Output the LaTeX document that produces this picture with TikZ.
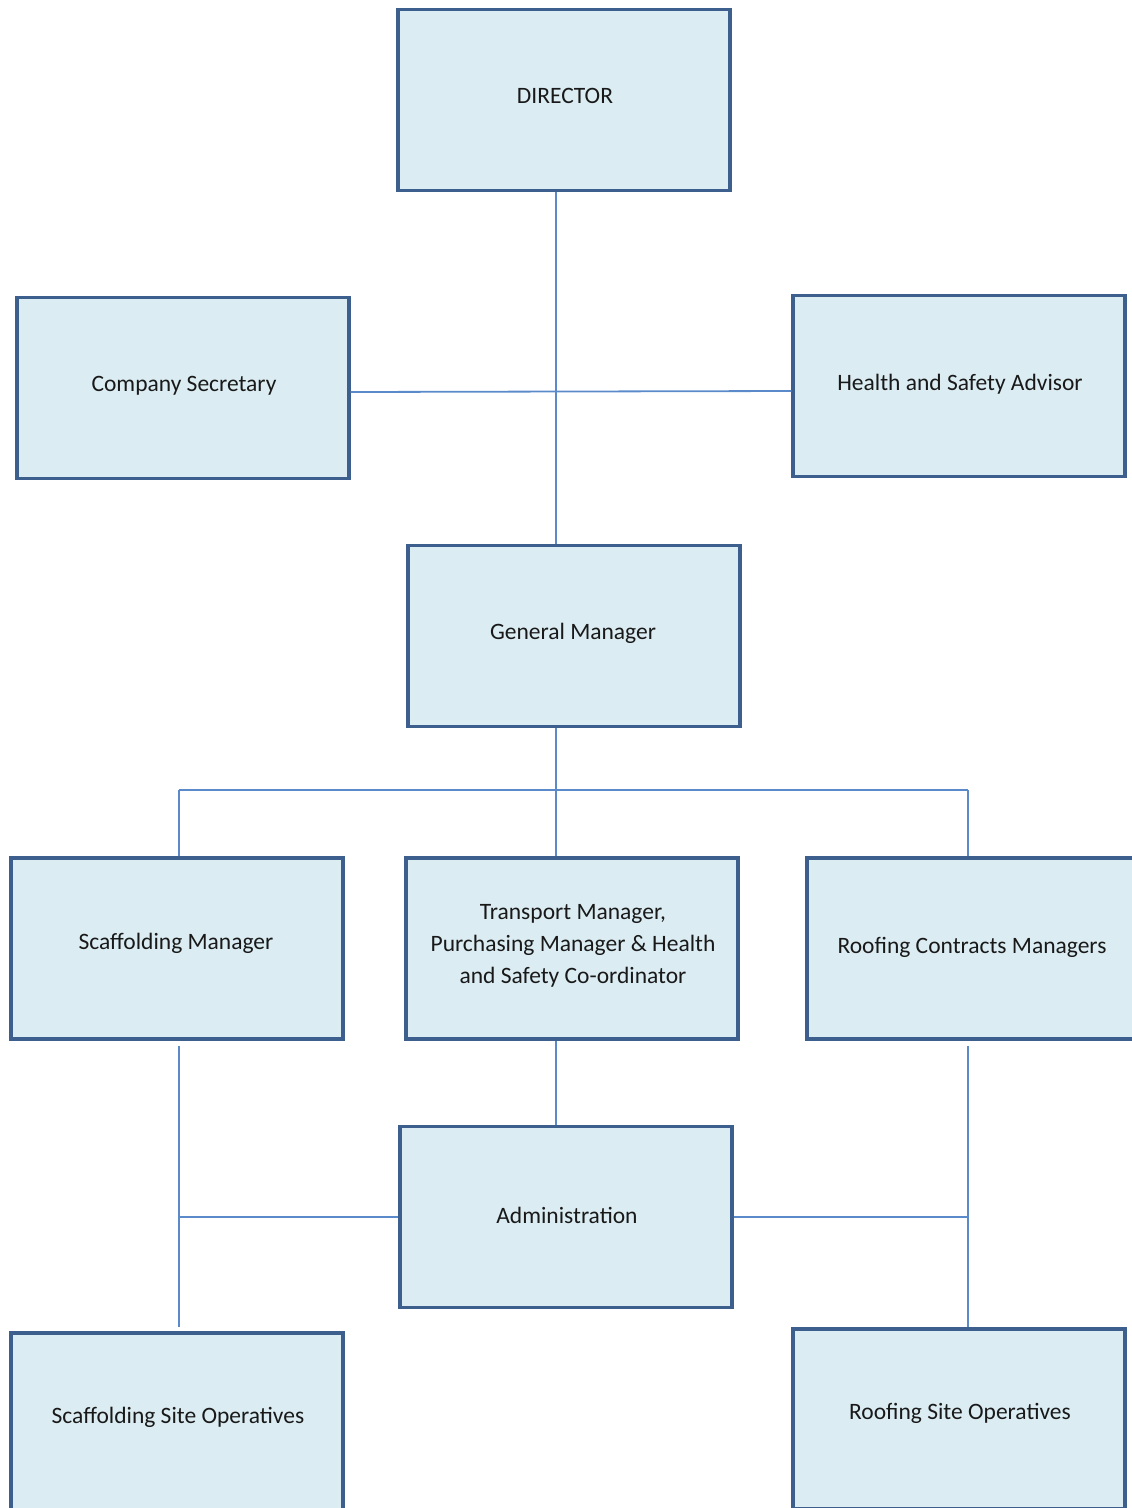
\documentclass[tikz,border=0pt]{standalone}
\usepackage{fontspec}
\setmainfont{Carlito}
\begin{document}
\begin{tikzpicture}[x=1pt,y=-1pt,
  box/.style={draw=boxline,fill=boxfill,line width=3.2pt,minimum width=332pt,minimum height=181pt,inner sep=0pt,font=\fontsize{23.5}{32}\selectfont,text=black!90,align=center},
  lbl/.style={font=\fontsize{23.5}{28}\selectfont,text=black!90,inner sep=0pt},
  conn/.style={draw=connline,line width=1.8pt}]
\definecolor{boxline}{HTML}{3C5F8E}
\definecolor{boxfill}{HTML}{DBEDF3}
\definecolor{connline}{HTML}{5B8ACB}
\useasboundingbox (0,0) rectangle (1132,1508);
\clip (0,0) rectangle (1132,1508);
% nodes
\node[box] (dir) at (564,100) {};
\node[lbl] (dirt) at (565,96) {DIRECTOR};
\node[box] (cs) at (183,388) {};
\node[lbl] (cst) at (184,386) {Company Secretary};
\node[box] (hs) at (959,386) {};
\node[lbl] (hst) at (960,384) {Health and Safety Advisor};
\node[box] (gm) at (574,636) {};
\node[lbl] (gmt) at (573,633) {General Manager};
\node[box] (sm) at (177,948.5) {};
\node[lbl] (smt) at (176,943) {Scaffolding Manager};
\node[box] (tm) at (572,948.5) {};
\node[lbl,align=center,font=\fontsize{23.5}{32}\selectfont] (tmt) at (573,946) {Transport Manager,\\Purchasing Manager \& Health\\and Safety Co-ordinator};
\node[box] (rc) at (973,948.5) {};
\node[lbl] (rct) at (972,947) {Roofing Contracts Managers};
\node[box] (adm) at (566,1217) {};
\node[lbl] (admt) at (567,1215) {Administration};
\node[box,minimum height=240pt] (sso) at (177,1453) {};
\node[lbl] (ssot) at (178,1417) {Scaffolding Site Operatives};
\node[box,minimum height=180pt] (rso) at (959,1419) {};
\node[lbl] (rsot) at (960,1413) {Roofing Site Operatives};
% coordinates
\coordinate (jm) at (556,790);
\coordinate (jl) at (179,790);
\coordinate (jr) at (968,790);
\coordinate (lt) at (179,1046);
\coordinate (rt) at (968,1046);
% connectors
\draw[conn] (dir.south -| jm) -- (gm.north -| jm);
\draw[conn] ([yshift=-4pt]cs.east) -- ([yshift=-5pt]hs.west);
\draw[conn] (gm.south -| jm) -- (jm);
\draw[conn] (jl) -- (jr);
\draw[conn] (jl) -- (sm.north -| jl);
\draw[conn] (jm) -- (tm.north -| jm);
\draw[conn] (jr) -- (rc.north -| jr);
\draw[conn] (tm.south -| jm) -- (adm.north -| jm);
\draw[conn] (lt) -- ([yshift=4pt]sso.north -| lt);
\draw[conn] (rt) -- (rso.north -| rt);
\draw[conn] (adm.west) -- (adm.west -| lt);
\draw[conn] (adm.east) -- (adm.east -| rt);
\end{tikzpicture}
\end{document}
